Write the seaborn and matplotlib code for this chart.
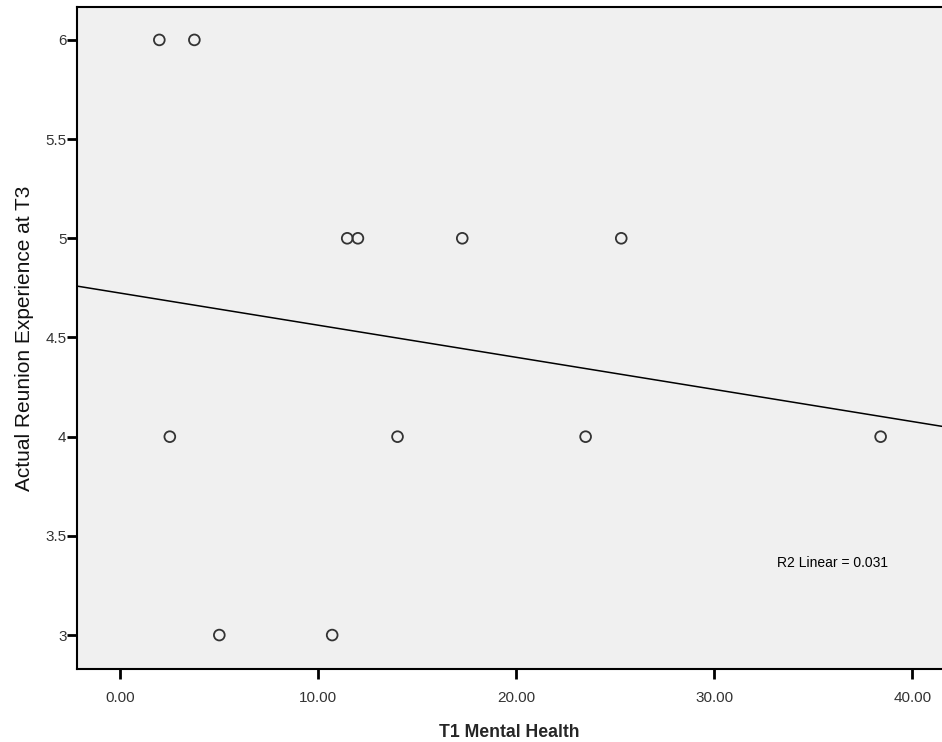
import pandas as pd
import seaborn as sns
import matplotlib.pyplot as plt

# valores
mental_health = [1.97, 3.74, 11.46, 12.0, 17.27, 25.3, 2.5, 14.0, 23.5, 38.4, 5.0, 10.7]
reunion = [6, 6, 5, 5, 5, 5, 4, 4, 4, 4, 3, 3]

x_ticks = [0, 10, 20, 30, 40]
x_labels = ["0.00", "10.00", "20.00", "30.00", "40.00"]
y_ticks = [3, 3.5, 4, 4.5, 5, 5.5, 6]
y_labels = ["3", "3.5", "4", "4.5", "5", "5.5", "6"]

df = pd.DataFrame({"T1 Mental Health": mental_health,
                   "Actual Reunion Experience at T3": reunion})

sns.set_style("white")
plt.rcParams['font.family'] = ['Liberation Sans', 'DejaVu Sans']

fig = plt.figure(figsize = (9.42, 7.42), dpi = 100)
ax = fig.add_axes([0.0817, 0.0984, 1 - 0.0817, 0.9906 - 0.0984])
ax.set_facecolor("#f0f0f0")

ax.set_xlim(-2.19, 41.5)
ax.set_ylim(2.829, 6.166)

sns.scatterplot(data = df, x = "T1 Mental Health", y = "Actual Reunion Experience at T3",
                ax = ax, s = 60, facecolor = "none", edgecolor = "#333333",
                linewidth = 1.3, zorder = 3)
sns.regplot(data = df, x = "T1 Mental Health", y = "Actual Reunion Experience at T3",
            ax = ax, scatter = False, ci = None, truncate = False,
            line_kws = {"color": "black", "linewidth": 1.1})

ax.set_xlim(-2.19, 41.5)
ax.set_ylim(2.829, 6.166)

ax.set_xticks(x_ticks)
ax.set_xticklabels(x_labels)
ax.set_yticks(y_ticks)
ax.set_yticklabels(y_labels)
ax.tick_params(axis = "both", direction = "out", length = 7.5, width = 2,
               color = "black", labelsize = 11, labelcolor = "#333333",
               bottom = True, left = True)
ax.tick_params(axis = "y", pad = 0)
ax.tick_params(axis = "x", pad = 8)

for side in ["left", "bottom", "top"]:
    ax.spines[side].set_visible(True)
    ax.spines[side].set_color("black")
    ax.spines[side].set_linewidth(1.5)
ax.spines["right"].set_visible(False)

ax.set_xlabel("T1 Mental Health", fontsize = 12.7, fontweight = "bold", labelpad = 14)
ax.set_ylabel("Actual Reunion Experience at T3", fontsize = 15, color = "#111111", labelpad = 8)

ax.text(0.809, 0.16, "R2 Linear = 0.031", transform = ax.transAxes,
        fontsize = 10, ha = "left", va = "center", color = "black")

plt.savefig("out.png", dpi = 100)
